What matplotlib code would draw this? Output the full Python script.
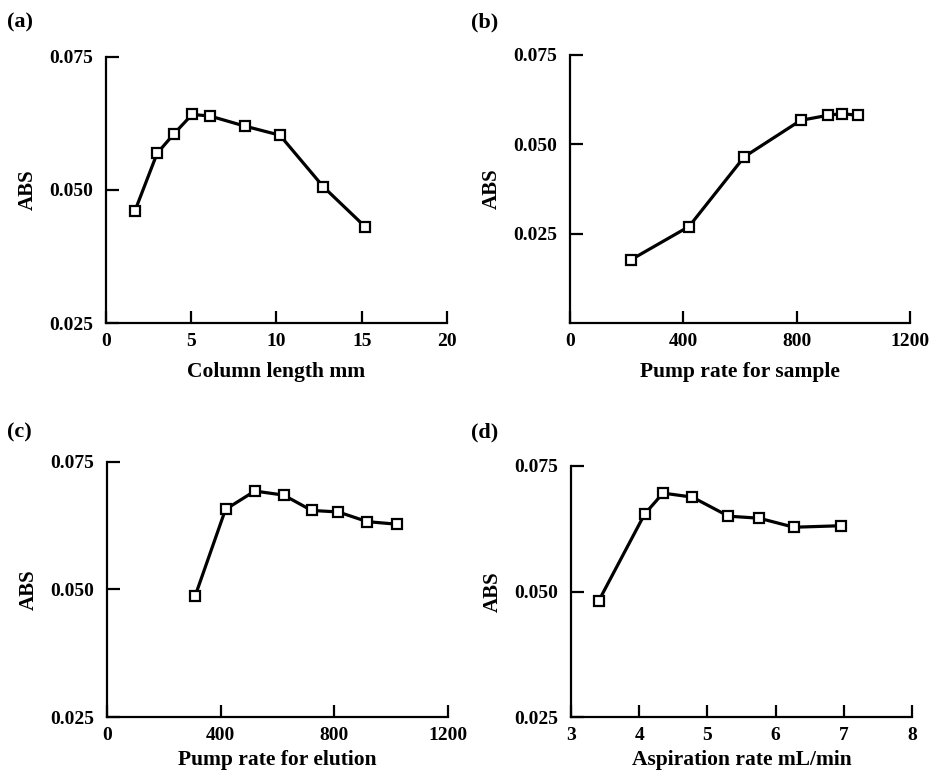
import matplotlib
matplotlib.use("Agg")
import matplotlib.pyplot as plt

plt.rcParams['font.family'] = ['Liberation Serif', 'DejaVu Serif']
plt.rcParams['font.weight'] = 'bold'

# Panel (a): column length
col_len = [1.7, 3.0, 4.0, 5.05, 6.1, 8.15, 10.2, 12.75, 15.2]
abs_a = [0.0461, 0.0569, 0.0606, 0.0642, 0.0639, 0.0620, 0.0603, 0.0506, 0.0431]

# Panel (b): pump rate for sample
pump_sample = [215, 420, 615, 814, 909, 960, 1015]
abs_b = [0.0177, 0.0270, 0.0465, 0.0567, 0.0581, 0.0586, 0.0581]

# Panel (c): pump rate for elution
pump_elution = [310, 417, 520, 622, 720, 814, 916, 1020]
abs_c = [0.0487, 0.0657, 0.0693, 0.0685, 0.0655, 0.0652, 0.0633, 0.0628]

# Panel (d): aspiration rate
aspiration = [3.41, 4.08, 4.35, 4.78, 5.31, 5.76, 6.27, 6.96]
abs_d = [0.0482, 0.0654, 0.0696, 0.0688, 0.0650, 0.0646, 0.0628, 0.0631]

fig = plt.figure(figsize=(9.34, 7.72), dpi=100)

panels = [
    dict(pos=[0.1135, 0.5816, 0.365, 0.3446], x=col_len, y=abs_a,
         xlim=(0, 20), xticks=[0, 5, 10, 15, 20], xtl=['0', '5', '10', '15', '20'],
         ylim=(0.025, 0.075), yticks=[0.025, 0.050, 0.075],
         xlabel='Column length mm', tag='(a)', tagpos=(7, 22), xly=-0.145),
    dict(pos=[0.6103, 0.5816, 0.364, 0.3472], x=pump_sample, y=abs_b,
         xlim=(0, 1200), xticks=[0, 400, 800, 1200], xtl=['0', '400', '800', '1200'],
         ylim=(0.0, 0.075), yticks=[0.025, 0.050, 0.075],
         xlabel='Pump rate for sample', tag='(b)', tagpos=(471, 22), xly=-0.145),
    dict(pos=[0.1146, 0.0712, 0.365, 0.3304], x=pump_elution, y=abs_c,
         xlim=(0, 1200), xticks=[0, 400, 800, 1200], xtl=['0', '400', '800', '1200'],
         ylim=(0.025, 0.075), yticks=[0.025, 0.050, 0.075],
         xlabel='Pump rate for elution', tag='(c)', tagpos=(7, 432), xly=-0.13),
    dict(pos=[0.6113, 0.0712, 0.365, 0.3252], x=aspiration, y=abs_d,
         xlim=(3, 8), xticks=[3, 4, 5, 6, 7, 8], xtl=['3', '4', '5', '6', '7', '8'],
         ylim=(0.025, 0.075), yticks=[0.025, 0.050, 0.075],
         xlabel='Aspiration rate mL/min', tag='(d)', tagpos=(471, 432), xly=-0.13),
]

W, H = 934, 772
for p in panels:
    ax = fig.add_axes(p['pos'])
    ax.plot(p['x'], p['y'], color='black', lw=2.3, marker='s', ms=7,
            mfc='white', mec='black', mew=1.6, zorder=3)
    ax.set_xlim(*p['xlim'])
    ax.set_ylim(*p['ylim'])
    ax.set_xticks(p['xticks'])
    ax.set_xticklabels(p['xtl'])
    ax.set_yticks(p['yticks'])
    ax.set_yticklabels(['%.3f' % v for v in p['yticks']])
    for s in ['top', 'right']:
        ax.spines[s].set_visible(False)
    for s in ['left', 'bottom']:
        ax.spines[s].set_linewidth(1.6)
    ax.tick_params(axis='both', direction='in', length=9, width=1.6,
                   labelsize=14)
    ax.tick_params(axis='y', pad=9)
    ax.tick_params(axis='x', pad=7)
    for t in ax.get_xticklabels() + ax.get_yticklabels():
        t.set_fontweight('bold')
    ax.set_xlabel(p['xlabel'], fontsize=15.5, fontweight='bold')
    ax.set_ylabel('ABS', fontsize=15, fontweight='bold')
    ax.xaxis.set_label_coords(0.5, p['xly'])
    ax.yaxis.set_label_coords(-0.2, 0.5)
    fig.text(p['tagpos'][0] / W, 1 - p['tagpos'][1] / H, p['tag'],
             fontsize=16, fontweight='bold', va='center', ha='left')

fig.savefig('out.png', dpi=100, facecolor='white')
